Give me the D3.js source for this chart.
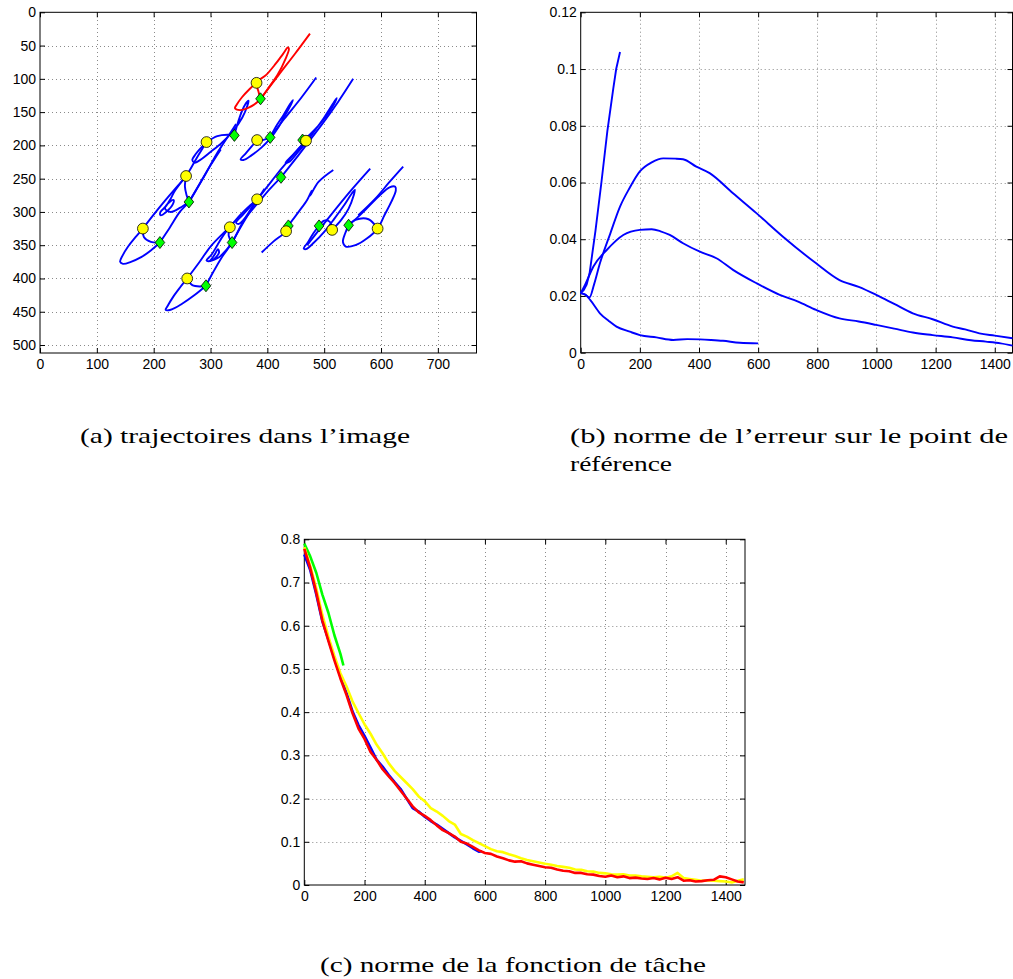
<!DOCTYPE html>
<html><head><meta charset="utf-8">
<script src="https://cdn.jsdelivr.net/npm/d3@7"></script>
<style>body{margin:0;background:#fff}svg{display:block}</style>
</head><body>
<svg id="c" width="1013" height="979"></svg>
<script>
// ---------- Panel (a) data: image trajectories ----------
const aXTicks = [0,100,200,300,400,500,600,700];
const aYTicks = [0,50,100,150,200,250,300,350,400,450,500];
const redTraj = [[381,106],[368,116],[355,128],[346,139],[343,144],[352,147],[368,143],[385,133],[400,116],[418,94],[432,70],[438,55],[436,53],[428,62],[414,78],[398,94],[381,106],[384,118],[388,130]];
const redLine = [[390,128],[420,94],[448,63],[475,32]];
const tA2 = [[293,195],[284,203],[274,213],[268,222],[272,226],[285,220],[300,210],[320,196],[340,178],[356,158],[365,140],[367,133],[360,140],[352,156],[346,172],[342,185]];
const hA2 = [[293,195],[312,186],[330,184],[342,185]];
const tA3 = [[257,246],[246,258],[236,270],[230,280],[222,291],[212,300],[212,305],[222,300],[234,288],[235,282],[228,285],[220,295],[230,300],[246,294],[262,285]];
const hA3 = [[257,246],[255,262],[258,275],[262,285]];
const lA3 = [[262,285],[290,245],[310,214],[322,198],[345,168]];
const tA4 = [[181,325],[168,338],[155,352],[145,366],[141,375],[146,378],[160,375],[178,368],[195,358],[211,346]];
const hA4 = [[181,325],[183,338],[195,345],[211,346]];
const lA4 = [[211,346],[228,324],[246,300],[262,285],[282,256],[300,230],[318,206]];
const eA4 = [[181,325],[200,304],[220,283],[240,263],[257,246],[275,220],[293,195]];
const tB1 = [[334,323],[322,336],[312,350],[302,364],[293,373],[298,374],[308,363],[313,356],[315,361],[306,371],[300,374],[315,368],[328,357],[338,346]];
const hB1 = [[334,323],[332,336],[338,346]];
const lB1 = [[338,346],[355,320],[375,292],[395,265]];
const tB2 = [[259,400],[246,414],[234,428],[224,442],[221,447],[230,447],[250,438],[272,425],[292,411]];
const hB2 = [[259,400],[268,410],[282,412],[292,411]];
const lB2 = [[292,411],[305,390],[320,368],[338,346],[355,318],[370,297],[382,281]];
const eB2 = [[259,400],[280,376],[300,352],[320,334],[334,323]];
const tB3 = [[382,281],[370,292],[356,305],[345,316],[350,318],[365,305],[385,285],[405,265],[424,248]];
const eB3 = [[334,323],[352,305],[370,290],[382,281],[400,262],[420,240],[440,220],[462,198]];
const tB4 = [[468,193],[455,205],[444,215],[432,226],[438,225],[452,212],[468,196],[485,176],[500,158],[515,138],[522,129],[516,140],[500,160],[485,175],[472,186],[462,192]];
const lB4 = [[424,248],[450,220],[475,192],[500,164],[525,134],[551,100]];
const tB5 = [[382,192],[372,202],[362,212],[353,221],[358,222],[372,215],[390,203],[405,190],[420,172],[433,152],[442,138],[445,132],[440,138],[428,155],[415,172],[405,188]];
const hB5 = [[382,192],[392,192],[405,188]];
const lB5 = [[405,188],[430,160],[460,128],[486,98]];
const tC1 = [[390,361],[410,345],[433,329],[437,321],[455,300],[470,282],[478,268],[475,276],[490,255],[516,237]];
const tC2 = [[491,321],[481,332],[472,345],[464,355],[468,356],[482,346],[500,330],[518,310],[535,290],[548,273],[554,267],[552,275],[543,295],[530,312],[514,327]];
const hC2 = [[491,321],[500,313],[510,315],[514,327]];
const lC2 = [[470,350],[505,312],[545,270],[581,235]];
const tC3 = [[543,320],[537,332],[533,345],[538,352],[555,350],[575,340],[594,325],[606,305],[618,285],[626,268],[625,262],[615,263],[598,275],[578,292],[560,307],[543,320]];
const hC3 = [[543,320],[555,312],[578,311],[594,325]];
const lC3 = [[560,305],[590,280],[615,255],[639,232]];
const blueTrajs = [tA2,hA2,tA3,hA3,lA3,tA4,hA4,lA4,eA4,tB1,hB1,lB1,tB2,hB2,lB2,eB2,tB3,eB3,tB4,lB4,tB5,hB5,lB5,tC1,tC2,hC2,lC2,tC3,hC3,lC3];
const startPts = [[381,106],[293,195],[257,246],[181,325],[259,400],[334,323],[382,281],[382,192],[468,193],[433,329],[514,327],[594,325]];
const endPts = [[388,130],[342,185],[262,285],[211,346],[292,411],[338,346],[424,248],[405,188],[462,192],[437,321],[491,321],[543,320]];

// ---------- Panel (b) data: reference point error ----------
const bXTicks = [0,200,400,600,800,1000,1200,1400];
const bYTicks = [0,0.02,0.04,0.06,0.08,0.1,0.12];
const bYLabels = ["0","0.02","0.04","0.06","0.08","0.1","0.12"];
const errSteep = [[0,0.021],[10,0.022],[20,0.024],[30,0.028],[50,0.043],[70,0.060],[90,0.078],[110,0.093],[120,0.100],[133,0.106]];
const errHigh = [[0,0.021],[15,0.0205],[30,0.0195],[45,0.024],[65,0.0315],[100,0.042],[133,0.0515],[165,0.058],[200,0.0639],[240,0.0671],[279,0.0685],[320,0.0684],[346,0.0682],[391,0.0656],[436,0.0633],[515,0.0562],[594,0.0492],[684,0.0409],[796,0.0315],[875,0.0256],[940,0.0232],[999,0.0204],[1060,0.0172],[1123,0.0139],[1190,0.0118],[1258,0.0092],[1300,0.0082],[1348,0.0068],[1400,0.006],[1460,0.0051]];
const errMid = [[0,0.021],[15,0.024],[43,0.0304],[88,0.0362],[144,0.0415],[200,0.0433],[240,0.0435],[270,0.0428],[301,0.0415],[346,0.0386],[403,0.0356],[459,0.0333],[515,0.0292],[594,0.0245],[673,0.0204],[735,0.0180],[796,0.0151],[875,0.0121],[940,0.0110],[999,0.0098],[1060,0.0085],[1123,0.0071],[1190,0.0062],[1258,0.0054],[1320,0.0044],[1370,0.0039],[1420,0.0033],[1460,0.0025]];
const errLow = [[0,0.021],[15,0.0205],[32,0.0186],[65,0.0139],[95,0.0112],[121,0.0092],[166,0.0074],[200,0.0062],[256,0.0054],[313,0.0045],[360,0.0048],[403,0.0047],[440,0.0045],[481,0.0042],[538,0.0035],[600,0.0033]];

// ---------- Panel (c) data: task function norm ----------
const cXTicks = [0,200,400,600,800,1000,1200,1400];
const cYTicks = [0,0.1,0.2,0.3,0.4,0.5,0.6,0.7,0.8];
const cYLabels = ["0","0.1","0.2","0.3","0.4","0.5","0.6","0.7","0.8"];
const iterX = [0,20,40,60,80,100,120,140,160,180,200,220,240,260,280,300,320,340,360,380,400,420,440,460,480,500,520,540,560,580,600,620,640,660,680,700,720,740,760,780,800,820,840,860,880,900,920,940,960,980,1000,1020,1040,1060,1080,1100,1120,1140,1160,1180,1200,1220,1240,1260,1280,1300,1320,1340,1360,1380,1400,1420,1440,1460];
const taskRed = [0.778,0.733,0.676,0.612,0.565,0.520,0.478,0.440,0.398,0.362,0.338,0.308,0.290,0.268,0.252,0.236,0.218,0.200,0.182,0.168,0.160,0.150,0.138,0.127,0.120,0.112,0.100,0.096,0.088,0.080,0.074,0.072,0.066,0.062,0.057,0.054,0.055,0.050,0.047,0.044,0.041,0.040,0.036,0.033,0.032,0.028,0.028,0.025,0.024,0.021,0.019,0.022,0.018,0.020,0.016,0.017,0.015,0.014,0.016,0.013,0.017,0.014,0.018,0.010,0.011,0.008,0.009,0.011,0.012,0.020,0.018,0.013,0.008,0.006];
const taskYellow = [0.782,0.738,0.686,0.625,0.575,0.530,0.490,0.460,0.425,0.398,0.372,0.350,0.325,0.305,0.282,0.264,0.250,0.236,0.222,0.205,0.194,0.178,0.170,0.160,0.148,0.140,0.118,0.112,0.104,0.097,0.090,0.083,0.078,0.076,0.071,0.067,0.062,0.058,0.055,0.052,0.049,0.047,0.044,0.042,0.040,0.036,0.035,0.032,0.031,0.028,0.027,0.025,0.024,0.025,0.022,0.022,0.020,0.019,0.018,0.019,0.017,0.020,0.028,0.016,0.014,0.012,0.010,0.011,0.010,0.009,0.008,0.006,0.010,0.013];
const taskBlueX = [0,20,40,60,80,100,120,140,160,180,200,220,240,260,280,300,320,340,360,380,400,420,440,460,480,500,520,540,560,580,590];
const taskBlue = [0.765,0.728,0.672,0.610,0.568,0.525,0.482,0.445,0.402,0.370,0.345,0.318,0.290,0.274,0.255,0.238,0.222,0.200,0.178,0.170,0.158,0.148,0.140,0.130,0.120,0.110,0.102,0.094,0.085,0.077,0.078];
const taskGreenX = [0,20,40,60,80,100,120,130];
const taskGreen = [0.790,0.760,0.722,0.672,0.630,0.578,0.535,0.508];

// ---------- drawing ----------
const svg = d3.select("#c");
const FONT = "'Liberation Sans', Arial, Helvetica, sans-serif";

function frame(g, x, y, xt, yt, xl, yl) {
  const [xa, xb] = x.range(), [ya, yb] = y.range(); // ya bottom, yb top
  const grid = g.append("g").attr("stroke", "#8a8a8a").attr("stroke-width", 1).attr("stroke-dasharray", "1,3");
  grid.selectAll("line.vx").data(xt.filter(v => x(v) > xa + 1 && x(v) < xb - 1)).join("line")
    .attr("x1", d => Math.round(x(d)) + 0.5).attr("x2", d => Math.round(x(d)) + 0.5).attr("y1", ya).attr("y2", yb);
  grid.selectAll("line.hy").data(yt.filter(v => y(v) < ya - 1 && y(v) > yb + 1)).join("line")
    .attr("y1", d => Math.round(y(d)) + 0.5).attr("y2", d => Math.round(y(d)) + 0.5).attr("x1", xa).attr("x2", xb);
  const style = sel => { sel.select(".domain").remove(); sel.selectAll("line").attr("stroke", "#000");
    sel.selectAll("text").attr("font-family", FONT).attr("font-size", 14).attr("fill", "#000"); };
  g.append("g").attr("transform", `translate(0,${ya})`)
    .call(d3.axisBottom(x).tickValues(xt).tickFormat((d, i) => xl[i]).tickSizeInner(-5).tickSizeOuter(0).tickPadding(6)).call(style);
  g.append("g").attr("transform", `translate(0,${yb})`)
    .call(d3.axisTop(x).tickValues(xt).tickFormat("").tickSizeInner(-5).tickSizeOuter(0)).call(style);
  g.append("g").attr("transform", `translate(${xa},0)`)
    .call(d3.axisLeft(y).tickValues(yt).tickFormat((d, i) => yl[i]).tickSizeInner(-5).tickSizeOuter(0).tickPadding(4)).call(style);
  g.append("g").attr("transform", `translate(${xb},0)`)
    .call(d3.axisRight(y).tickValues(yt).tickFormat("").tickSizeInner(-5).tickSizeOuter(0)).call(style);
  g.append("rect").attr("x", xa).attr("y", yb).attr("width", xb - xa).attr("height", ya - yb)
    .attr("fill", "none").attr("stroke", "#000").attr("stroke-width", 1);
}

// Panel (a)
const ax = d3.scaleLinear().domain([0, 768]).range([40, 476.5]);
const ay = d3.scaleLinear().domain([512, 0]).range([353, 12.3]);
const ga = svg.append("g");
frame(ga, ax, ay, aXTicks, aYTicks, aXTicks.map(String), aYTicks.map(String));
const trajLine = d3.line().x(d => ax(d[0])).y(d => ay(d[1])).curve(d3.curveCatmullRom.alpha(0.5));
ga.append("g").selectAll("path").data(blueTrajs).join("path")
  .attr("d", trajLine).attr("fill", "none").attr("stroke", "#0000ff").attr("stroke-width", 1.9).attr("stroke-linejoin", "round");
ga.append("g").selectAll("path").data([redTraj, redLine]).join("path")
  .attr("d", trajLine).attr("fill", "none").attr("stroke", "#ff0000").attr("stroke-width", 1.9);
ga.append("g").selectAll("path").data(endPts).join("path")
  .attr("transform", d => `translate(${ax(d[0])},${ay(d[1])})`)
  .attr("d", "M0,-6L4.8,0L0,6L-4.8,0Z").attr("fill", "#00ff00").attr("stroke", "#000").attr("stroke-width", 0.8);
ga.append("g").selectAll("circle").data(startPts).join("circle")
  .attr("cx", d => ax(d[0])).attr("cy", d => ay(d[1])).attr("r", 5.4)
  .attr("fill", "#ffff00").attr("stroke", "#000").attr("stroke-width", 0.8);

// Panel (b)
const bx = d3.scaleLinear().domain([0, 1460]).range([580.7, 1012.5]);
const by = d3.scaleLinear().domain([0, 0.12]).range([352.7, 12.3]);
const gb = svg.append("g");
frame(gb, bx, by, bXTicks, bYTicks, bXTicks.map(String), bYLabels);
const bLine = d3.line().x(d => bx(d[0])).y(d => by(d[1])).curve(d3.curveMonotoneX);
gb.append("g").selectAll("path").data([errLow, errMid, errHigh]).join("path")
  .attr("d", bLine).attr("fill", "none").attr("stroke", "#0000ff").attr("stroke-width", 1.9);
gb.append("path").datum(errSteep).attr("d", d3.line().x(d => bx(d[0])).y(d => by(d[1])))
  .attr("fill", "none").attr("stroke", "#0000ff").attr("stroke-width", 1.9);

// Panel (c)
const cx = d3.scaleLinear().domain([0, 1464]).range([304.3, 745]);
const cy = d3.scaleLinear().domain([0, 0.8]).range([885, 539.3]);
const gc = svg.append("g");
frame(gc, cx, cy, cXTicks, cYTicks, cXTicks.map(String), cYLabels);
const cLine = d3.line().x(d => cx(d[0])).y(d => cy(d[1]));
const zip = (xs, ys) => xs.map((v, i) => [v, ys[i]]);
[[zip(taskBlueX, taskBlue), "#0000ff"], [zip(taskGreenX, taskGreen), "#00ff00"],
 [zip(iterX, taskYellow), "#ffff00"], [zip(iterX, taskRed), "#ff0000"]].forEach(([d, col]) => {
  gc.append("path").datum(d).attr("d", cLine).attr("fill", "none").attr("stroke", col)
    .attr("stroke-width", 2.6).attr("stroke-linejoin", "round");
});

// Captions
const CAP = "'Liberation Serif', 'DejaVu Serif', serif";
const caps = [
  {t: "(a) trajectoires dans l’image", x: 80, y: 443, w: 330},
  {t: "(b) norme de l’erreur sur le point de", x: 570, y: 443, w: 438},
  {t: "référence", x: 570, y: 471, w: 102},
  {t: "(c) norme de la fonction de tâche", x: 320, y: 972, w: 386}
];
svg.append("g").selectAll("text").data(caps).join("text")
  .attr("x", d => d.x).attr("y", d => d.y).attr("textLength", d => d.w).attr("lengthAdjust", "spacingAndGlyphs")
  .attr("font-family", CAP).attr("font-size", 21).attr("fill", "#000").text(d => d.t);
</script>
</body></html>
